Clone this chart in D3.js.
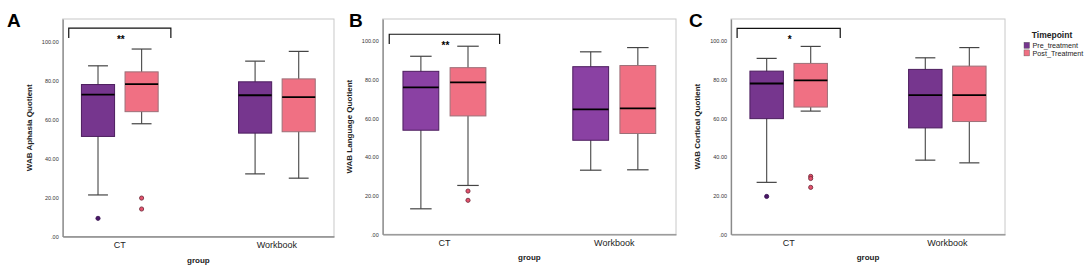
<!DOCTYPE html>
<html>
<head>
<meta charset="utf-8">
<script src="https://cdn.jsdelivr.net/npm/d3@7"></script>
<style>
  body { margin: 0; background: #fff; }
  svg { display: block; font-family: "Liberation Sans", Arial, sans-serif; }
</style>
</head>
<body>
<div id="chart-area"></div>
<script>
// DATA
// ****

const groups = ["CT", "Workbook"]
const timepoints = ["Pre_treatment", "Post_Treatment"]
const tickValues = [0, 20, 40, 60, 80, 100]
const tickLabels = [".00", "20.00", "40.00", "60.00", "80.00", "100.00"]

// each row: [whisker low, q1, median, q3, whisker high]
// order: CT pre, CT post, Workbook pre, Workbook post
const aphasiaStats = [
  [21.3, 51.3, 72.7, 77.9, 87.5],
  [57.8, 64.0, 78.1, 84.4, 96.1],
  [32.1, 53.0, 72.4, 79.3, 89.9],
  [29.9, 53.7, 71.5, 80.8, 94.9]
]
const aphasiaOutliers = [[9.3], [19.7, 14.1], [], []]

const languageStats = [
  [13.2, 53.9, 76.1, 84.4, 92.2],
  [25.3, 61.3, 78.7, 86.3, 97.4],
  [33.2, 48.7, 64.7, 86.8, 94.5],
  [33.4, 52.2, 65.2, 87.4, 96.7]
]
const languageOutliers = [[], [22.4, 17.6], [], []]

const corticalStats = [
  [26.9, 59.9, 78.1, 84.5, 91.1],
  [63.8, 65.9, 79.7, 88.5, 97.3],
  [38.4, 55.1, 72.1, 85.4, 91.4],
  [37.0, 58.4, 72.1, 87.1, 96.7]
]
const corticalOutliers = [[19.6], [30.0, 28.9, 24.3], [], []]

const panelLetters = ["A", "B", "C"]
const yTitles = ["WAB Aphasia Quotient", "WAB Language Quotient", "WAB Cortical Quotient"]
const sigLabels = ["**", "**", "*"]
// bracket: [top, tips, star]
const brackets = [[106.8, 101.8, 100.8], [103.6, 98.6, 97.6], [106.6, 101.6, 100.6]]

// LAYOUT
// ******

const width = 1084, height = 272
const frames = [
  { left: 62.7, right: 334, top: 19, bottom: 236.5 },
  { left: 382.7, right: 676, top: 19, bottom: 234.3 },
  { left: 731, right: 1005, top: 19, bottom: 234.3 }
]
const letterX = [7, 349, 689]
const preColors = ["#76368e", "#8a41a3", "#76368e"]
const postColor = "#f07083"
const statsList = [aphasiaStats, languageStats, corticalStats]
const outlierList = [aphasiaOutliers, languageOutliers, corticalOutliers]

const svg = d3.select("#chart-area").append("svg")
  .attr("width", width).attr("height", height)

statsList.forEach((stats, p) => {
  const f = frames[p]
  const w = f.right - f.left
  const h = f.bottom - f.top
  const g = svg.append("g").attr("transform", `translate(${f.left},${f.top})`)

  const y = d3.scaleLinear().domain([0, 111.5]).range([h, 0])
  const x = d3.scaleBand().domain(groups).range([0, w])
    .paddingInner(0.445).paddingOuter(0.086)
  const xSub = d3.scaleBand().domain(timepoints).range([0, x.bandwidth()])
    .paddingInner(0.24).paddingOuter(0.12)
  const color = d3.scaleOrdinal().domain(timepoints).range([preColors[p], postColor])

  // frame
  g.append("rect").attr("width", w).attr("height", h)
    .attr("fill", "none").attr("stroke", "#c8c8c8").attr("stroke-width", 1)

  // axes
  const yAxis = g.append("g")
    .call(d3.axisLeft(y).tickValues(tickValues).tickSize(0).tickPadding(4)
      .tickFormat((d, i) => tickLabels[i]))
  yAxis.select(".domain").attr("stroke", "#8a8a8a").attr("stroke-width", 1.3)
  yAxis.selectAll("text").attr("font-size", 5.5).attr("fill", "#333")

  const xAxis = g.append("g").attr("transform", `translate(0,${h})`)
    .call(d3.axisBottom(x).tickSize(0).tickPadding(5))
  xAxis.select(".domain").attr("stroke", "#8a8a8a").attr("stroke-width", 1.3)
  xAxis.selectAll("text").attr("font-size", 9).attr("fill", "#222")

  // boxes
  const rows = []
  groups.forEach((grp, gi) => {
    timepoints.forEach((tp, ti) => {
      rows.push({ grp, tp, s: stats[gi * 2 + ti], out: outlierList[p][gi * 2 + ti] })
    })
  })
  const bw = xSub.bandwidth()
  const box = g.selectAll(".box").data(rows).enter().append("g")
    .attr("class", "box")
    .attr("transform", d => `translate(${x(d.grp) + xSub(d.tp)},0)`)

  box.append("line")
    .attr("x1", bw / 2).attr("x2", bw / 2)
    .attr("y1", d => y(d.s[0])).attr("y2", d => y(d.s[4]))
    .attr("stroke", "#555").attr("stroke-width", 1.2)
  box.selectAll(".cap").data(d => [d.s[0], d.s[4]]).enter().append("line")
    .attr("x1", bw * 0.2).attr("x2", bw * 0.8)
    .attr("y1", d => y(d)).attr("y2", d => y(d))
    .attr("stroke", "#444").attr("stroke-width", 1.2)
  box.append("rect")
    .attr("x", 0).attr("width", bw)
    .attr("y", d => y(d.s[3])).attr("height", d => y(d.s[1]) - y(d.s[3]))
    .attr("fill", d => color(d.tp))
    .attr("stroke", d => d.tp === timepoints[0] ? "#4c1d5e" : "#9c7078")
    .attr("stroke-width", 1)
  box.append("line")
    .attr("x1", 0).attr("x2", bw)
    .attr("y1", d => y(d.s[2])).attr("y2", d => y(d.s[2]))
    .attr("stroke", "#000").attr("stroke-width", 1.8)
  box.selectAll(".out").data(d => d.out.map(v => ({ v, tp: d.tp }))).enter()
    .append("circle")
    .attr("cx", bw / 2).attr("cy", d => y(d.v)).attr("r", 2.1)
    .attr("fill", d => d.tp === timepoints[0] ? "#4a1768" : "#e4526c")
    .attr("stroke", d => d.tp === timepoints[0] ? "#35104d" : "#6b2435")
    .attr("stroke-width", 0.8)

  // significance bracket
  const b = brackets[p]
  const cx = x(groups[0]) + x.bandwidth() / 2
  const half = x.step() * 0.325
  g.append("path")
    .attr("d", `M${cx - half},${y(b[1])}V${y(b[0])}H${cx + half}V${y(b[1])}`)
    .attr("fill", "none").attr("stroke", "#111").attr("stroke-width", 1.2)
  g.append("text")
    .attr("x", cx + 1).attr("y", y(b[2]) + 3)
    .attr("text-anchor", "middle").attr("font-size", 10).attr("font-weight", "bold")
    .text(sigLabels[p])

  // titles
  g.append("text")
    .attr("transform", `translate(-33,${h / 2}) rotate(-90)`)
    .attr("text-anchor", "middle").attr("dominant-baseline", "middle")
    .attr("font-size", 8).attr("font-weight", "bold").attr("fill", "#222")
    .text(yTitles[p])
  g.append("text")
    .attr("x", w / 2).attr("y", h + 26)
    .attr("text-anchor", "middle")
    .attr("font-size", 8).attr("font-weight", "bold").attr("fill", "#222")
    .text("group")

  svg.append("text")
    .attr("x", letterX[p]).attr("y", 27)
    .attr("font-size", 19).attr("font-weight", "bold")
    .text(panelLetters[p])
})

// LEGEND
const legend = svg.append("g").attr("transform", "translate(1024,0)")
legend.append("text")
  .attr("x", 28).attr("y", 38).attr("text-anchor", "middle")
  .attr("font-size", 8.5).attr("font-weight", "bold").attr("fill", "#222")
  .text("Timepoint")
const legendColors = [preColors[0], postColor]
timepoints.forEach((tp, i) => {
  legend.append("rect")
    .attr("x", 0).attr("y", 42.3 + i * 7.6).attr("width", 5.5).attr("height", 6)
    .attr("fill", legendColors[i]).attr("stroke", "#555").attr("stroke-width", 0.4)
  legend.append("text")
    .attr("x", 8.5).attr("y", 48 + i * 7.6)
    .attr("font-size", 7.2).attr("fill", "#222")
    .text(tp)
})
</script>
</body>
</html>
